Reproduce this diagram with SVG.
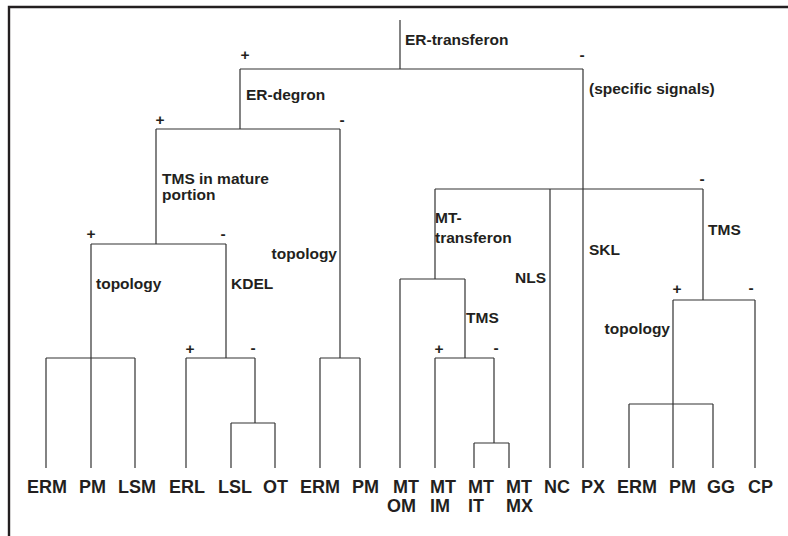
<svg xmlns="http://www.w3.org/2000/svg" width="788" height="536" viewBox="0 0 788 536">
<style>
  .frame { fill: none; stroke: #231f20; stroke-width: 2.4; }
  .conn path { fill: none; stroke: #333333; stroke-width: 1.2; }
  text { font-family: "Liberation Sans", Arial, sans-serif; font-weight: bold; fill: #231f20; }
  .lbl { font-size: 15.5px; }
  .sgn { font-size: 15.5px; text-anchor: middle; }
  .leaf { font-size: 18px; }
</style>
<rect width="788" height="536" fill="#ffffff"/>
<path class="frame" d="M9,536 V7 H788"/>

<g id="connectors" class="conn">
  <path d="M400,20 V69 M240,69 H583"/>
  <path d="M240,69 V129 M156,129 H340"/>
  <path d="M156,129 V244 M91,244 H226"/>
  <path d="M91,244 V468 M46,358 H135 M46,358 V468 M135,358 V468"/>
  <path d="M226,244 V358 M186,358 H255 M186,358 V468 M255,358 V423 M231,423 H275 M231,423 V468 M275,423 V468"/>
  <path d="M340,129 V358 M320,358 H360 M320,358 V468 M360,358 V468"/>
  <path d="M583,69 V468 M435,189 H703 M550,189 V468"/>
  <path d="M435,189 V279 M400,279 H465 M400,279 V468 M465,279 V358 M435,358 H494 M435,358 V468 M494,358 V443 M474,443 H509 M474,443 V468 M509,443 V468"/>
  <path d="M703,189 V300 M673,300 H755 M673,300 V468 M629,404 H713 M629,404 V468 M713,404 V468 M755,300 V468"/>
</g>

<g id="n-er-transferon">
  <text class="lbl" x="405" y="45">ER-transferon</text>
  <text class="sgn" x="245" y="60">+</text>
  <text class="sgn" x="582" y="60">-</text>
</g>
<g id="n-er-degron">
  <text class="lbl" x="246" y="100">ER-degron</text>
  <text class="sgn" x="160" y="125">+</text>
  <text class="sgn" x="342" y="125">-</text>
</g>
<g id="n-specific-signals">
  <text class="lbl" x="589" y="94">(specific signals)</text>
  <text class="sgn" x="702" y="184">-</text>
</g>
<g id="n-tms-mature">
  <text class="lbl" x="162" y="183.5">TMS in mature</text>
  <text class="lbl" x="162" y="199.5">portion</text>
  <text class="sgn" x="91" y="239">+</text>
  <text class="sgn" x="223" y="239">-</text>
</g>
<g id="n-topology-er">
  <text class="lbl" x="337" y="259" text-anchor="end">topology</text>
</g>
<g id="n-topology-left">
  <text class="lbl" x="96" y="289">topology</text>
</g>
<g id="n-kdel">
  <text class="lbl" x="231" y="289">KDEL</text>
  <text class="sgn" x="190" y="354">+</text>
  <text class="sgn" x="253" y="353">-</text>
</g>
<g id="n-mt-transferon">
  <text class="lbl" x="435" y="223">MT-</text>
  <text class="lbl" x="435" y="243">transferon</text>
</g>
<g id="n-nls">
  <text class="lbl" x="546" y="283" text-anchor="end">NLS</text>
</g>
<g id="n-skl">
  <text class="lbl" x="589" y="255">SKL</text>
</g>
<g id="n-tms-mt">
  <text class="lbl" x="466" y="323">TMS</text>
  <text class="sgn" x="439" y="354">+</text>
  <text class="sgn" x="496" y="353">-</text>
</g>
<g id="n-tms-right">
  <text class="lbl" x="708" y="235">TMS</text>
  <text class="sgn" x="677" y="294">+</text>
  <text class="sgn" x="751" y="293">-</text>
</g>
<g id="n-topology-right">
  <text class="lbl" x="670" y="334" text-anchor="end">topology</text>
</g>

<g id="leaf-erm1"><text class="leaf" x="27" y="493">ERM</text></g>
<g id="leaf-pm1"><text class="leaf" x="79" y="493">PM</text></g>
<g id="leaf-lsm"><text class="leaf" x="118" y="493">LSM</text></g>
<g id="leaf-erl"><text class="leaf" x="169" y="493">ERL</text></g>
<g id="leaf-lsl"><text class="leaf" x="218" y="493">LSL</text></g>
<g id="leaf-ot"><text class="leaf" x="263" y="493">OT</text></g>
<g id="leaf-erm2"><text class="leaf" x="300" y="493">ERM</text></g>
<g id="leaf-pm2"><text class="leaf" x="352" y="493">PM</text></g>
<g id="leaf-mt-om"><text class="leaf" x="393" y="493">MT</text><text class="leaf" x="387" y="512">OM</text></g>
<g id="leaf-mt-im"><text class="leaf" x="430" y="493">MT</text><text class="leaf" x="430" y="512">IM</text></g>
<g id="leaf-mt-it"><text class="leaf" x="468" y="493">MT</text><text class="leaf" x="468" y="512">IT</text></g>
<g id="leaf-mt-mx"><text class="leaf" x="506" y="493">MT</text><text class="leaf" x="506" y="512">MX</text></g>
<g id="leaf-nc"><text class="leaf" x="544" y="493">NC</text></g>
<g id="leaf-px"><text class="leaf" x="581" y="493">PX</text></g>
<g id="leaf-erm3"><text class="leaf" x="617" y="493">ERM</text></g>
<g id="leaf-pm3"><text class="leaf" x="669" y="493">PM</text></g>
<g id="leaf-gg"><text class="leaf" x="707" y="493">GG</text></g>
<g id="leaf-cp"><text class="leaf" x="748" y="493">CP</text></g>
</svg>
